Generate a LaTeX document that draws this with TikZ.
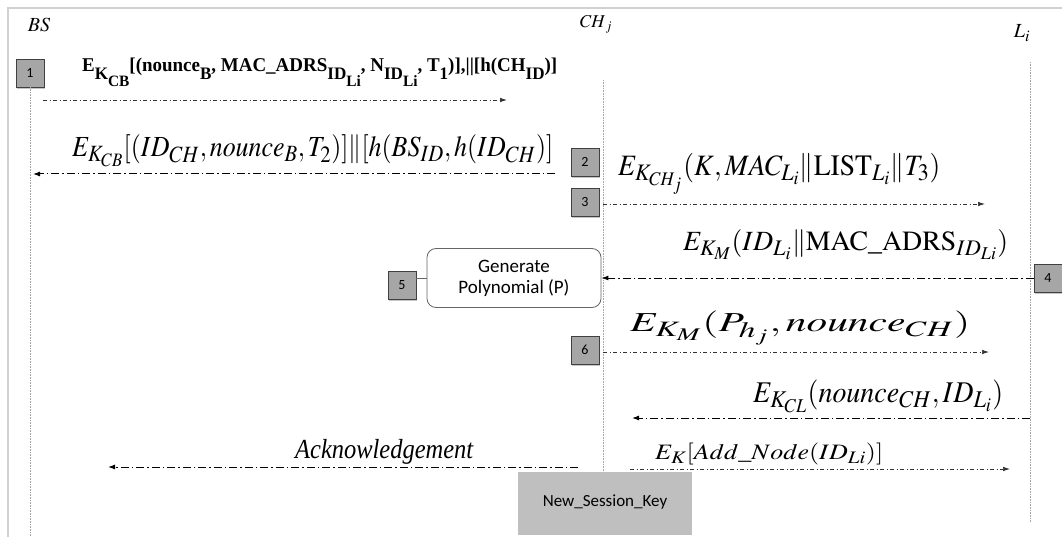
\documentclass[tikz,border=0pt]{standalone}
\usepackage{mathptmx}
\usepackage{graphicx}
\usepackage{fontspec}
\setmainfont{Liberation Serif}
\newfontfamily\boxfont{Carlito}
\DeclareMathSizes{20}{20}{16}{13}
\usetikzlibrary{arrows.meta,shadows}
\newcommand\dn[1]{\raisebox{-0.9ex}{\scalebox{0.9}{#1}}}

\tikzset{
  numbox/.style={draw=black!75, fill=black!35, minimum width=28pt, minimum height=28pt,
    inner sep=0pt, font=\boxfont\fontsize{14}{15}\selectfont,
    drop shadow={shadow xshift=1pt, shadow yshift=-2pt, opacity=0.45}},
  genbox/.style={draw=black!60, line width=0.8pt, rounded corners=9pt, fill=white,
    minimum width=174pt, minimum height=59pt, align=center,
    font=\boxfont\fontsize{19}{21}\selectfont},
  keybox/.style={fill=black!25, minimum width=174pt, minimum height=60pt,
    font=\boxfont\fontsize{17}{19}\selectfont,
    drop shadow={shadow xshift=0pt, shadow yshift=-3pt, opacity=0.5}},
  lifeline/.style={draw=black!35, densely dotted, line width=0.6pt},
  msg/.style={line width=0.7pt, black!80, dash pattern=on 4pt off 2.5pt on 1pt off 2.5pt,
    -{Latex[length=7pt,width=4.5pt]}},
  msgbig/.style={line width=1pt, dash pattern=on 8pt off 3pt on 1.5pt off 3pt,
    -{Latex[length=7pt,width=5pt]}},
  msgtxt/.style={inner sep=0pt, anchor=west, font=\fontsize{20}{22}\selectfont},
}

\begin{document}
\begin{tikzpicture}[x=1pt,y=-1pt]
  \useasboundingbox (0,0) rectangle (1062,537);
  \draw[black!18,line width=1.6pt] (1062,8) -- (8,8) -- (8,537);

  % heads of the three parties
  \node (bs) at (39,25) {\fontsize{20}{22}\selectfont$BS$};
  \node (ch) at (596,24) {\fontsize{18}{20}\selectfont$CH_{\,j}$};
  \node (li) at (1022,33) {\fontsize{20}{22}\selectfont$L_i$};

  % steps
  \node[numbox] (n1) at (30,73) {1};
  \node[numbox] (n2) at (585,162) {2};
  \node[numbox] (n3) at (585,202) {3};
  \node[numbox] (n4) at (1048,278) {4};
  \node[numbox] (n5) at (402,285) {5};
  \node[genbox] (gen) at (514,278) {Generate\\Polynomial (P)};
  \node[numbox] (n6) at (585,350) {6};
  \node[keybox] (key) at (605,502) {New\_Session\_Key};

  % lifelines
  \coordinate (bsend) at (30,537);
  \coordinate (chtop) at (603,80);
  \coordinate (litop) at (1030,62);
  \coordinate (liend) at (1030,522);
  \draw[lifeline] (n1.south) -- (bsend);
  \draw[lifeline] (chtop) -- (chtop |- key.north);
  \draw[lifeline] (litop) -- (liend);
  \draw[black!60] (gen.west) -- (gen.west -| n5.east);

  % messages
  \coordinate (m1a) at (43,100);
  \coordinate (m1b) at (507,100);
  \coordinate (m2a) at (555,174);
  \coordinate (m2b) at (33,174);
  \coordinate (m3a) at (603,204);
  \coordinate (m3b) at (985,204);
  \coordinate (m6a) at (603,352);
  \coordinate (m6b) at (989,352);
  \coordinate (m7a) at (1030,418);
  \coordinate (m7b) at (632,418);
  \coordinate (m8a) at (630,469);
  \coordinate (m8b) at (1010,469);
  \coordinate (m9a) at (578,467);
  \coordinate (m9b) at (108,467);

  \draw[msg] (m1a) -- (m1b);
  \draw[msgbig] (m2a) -- (m2b);
  \draw[msg] (m3a) -- (m3b);
  \draw[msgbig] (n4.west) -- (gen.east);
  \draw[msg] (m6a) -- (m6b);
  \draw[msgbig] (m7a) -- (m7b);
  \draw[msg] (m8a) -- (m8b);
  \draw[msgbig] (m9a) -- (m9b);

  \node[msgtxt] (t1) at (82,72) {\resizebox*{475pt}{29pt}{\bfseries
    E\dn{K\dn{CB}}[(nounce\dn{B}, MAC\_ADRS\dn{ID\dn{Li}}, N\dn{ID\dn{Li}}, T\dn{1})],||[h(CH\dn{ID})]}};
  \node[msgtxt] (t2) at (72,151) {\resizebox*{481pt}{32pt}{%
    $E_{K_{CB}}[(ID_{CH},nounce_B,T_2)]\|[h(BS_{ID},h(ID_{CH})]$}};
  \node[msgtxt] (t3) at (618,174) {\resizebox*{322pt}{42pt}{%
    $E_{K_{CH_j}}(K,MAC_{L_i}\|\mathrm{LIST}_{L_i}\|T_3)$}};
  \node[msgtxt] (t4) at (683,245) {\resizebox*{325pt}{30pt}{%
    $E_{K_M}(ID_{L_i}\|\mathrm{MAC\_ADRS}_{ID_{Li}})$}};
  \node[msgtxt] (t6) at (630,328) {\resizebox*{340pt}{34pt}{%
    $E_{K_M}(P_{h_j},nounce_{CH})$}};
  \node[msgtxt] (t7) at (753,396) {\resizebox*{250pt}{33pt}{%
    $E_{K_{CL}}(nounce_{CH},ID_{L_i})$}};
  \node[msgtxt] (t8) at (655,454) {\resizebox*{228pt}{22pt}{%
    $E_K[Add\_Node(ID_{Li})]$}};
  \node[msgtxt] (t9) at (295,452) {\resizebox*{178pt}{25pt}{\itshape Acknowledgement}};
\end{tikzpicture}
\end{document}
